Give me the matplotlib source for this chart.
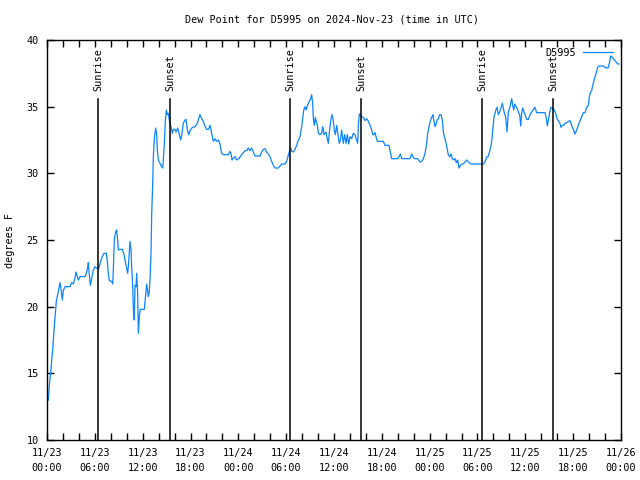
import numpy as np
import matplotlib
matplotlib.use("Agg")
import matplotlib.pyplot as plt
from matplotlib.ticker import MultipleLocator

# hours since 2024-11-23 00:00 UTC
hours = [
    0.17, 0.29, 0.46, 0.59, 0.71, 0.88, 1.05, 1.17, 1.34, 1.51, 1.63, 1.76, 1.92, 2.05, 2.26,
    2.89, 3.09, 3.30, 3.51, 3.64, 3.80, 3.93, 4.14, 4.77, 4.98, 5.10, 5.18, 5.31, 5.44, 5.60,
    5.81, 6.02, 6.23, 6.44, 6.56, 6.73, 6.94, 7.15, 7.44, 7.57, 7.69, 7.82, 8.11, 8.24, 8.32,
    8.45, 8.61, 8.74, 8.86, 8.95, 9.16, 9.45, 9.66, 9.78, 9.99, 10.12, 10.20, 10.29, 10.41, 10.54,
    10.62, 10.75, 10.83, 10.95, 11.04, 11.16, 11.25, 11.37, 11.46, 11.58, 11.71, 12.21, 12.29, 12.42, 12.50,
    12.63, 12.71, 12.84, 12.92, 13.05, 13.13, 13.25, 13.34, 13.46, 13.63, 13.76, 13.84, 13.97, 14.17, 14.38,
    14.51, 14.59, 14.72, 14.84, 14.97, 15.09, 15.22, 15.34, 15.60, 15.72, 15.85, 16.06, 16.18, 16.39, 16.60,
    16.77, 16.93, 17.10, 17.31, 17.44, 17.60, 17.77, 17.94, 18.15, 18.56, 18.86, 19.02, 19.19, 19.40, 19.61,
    19.82, 20.03, 20.24, 20.45, 20.66, 20.86, 21.07, 21.28, 21.49, 21.70, 21.91, 22.12, 22.75, 22.96, 23.08,
    23.21, 23.37, 23.58, 23.79, 24.13, 24.42, 24.84, 25.05, 25.25, 25.46, 25.67, 25.88, 26.09, 26.72, 26.93,
    27.14, 27.35, 27.55, 27.76, 27.97, 28.18, 28.39, 28.60, 29.02, 29.23, 29.44, 29.85, 30.06, 30.27, 30.40,
    30.57, 30.69, 30.90, 31.11, 31.32, 31.53, 31.74, 31.95, 32.07, 32.20, 32.36, 32.49, 32.61, 32.78, 32.91,
    33.07, 33.20, 33.32, 33.41, 33.53, 33.66, 33.78, 33.91, 34.04, 34.24, 34.45, 34.58, 34.75, 35.00, 35.16,
    35.29, 35.42, 35.58, 35.75, 35.88, 36.04, 36.17, 36.34, 36.50, 36.67, 36.84, 36.96, 37.17, 37.34, 37.51,
    37.67, 37.84, 38.01, 38.22, 38.43, 38.63, 38.97, 39.05, 39.18, 39.47, 39.68, 39.89, 40.10, 40.31, 40.52,
    40.73, 40.85, 41.02, 41.14, 41.27, 41.44, 42.19, 42.40, 42.90, 43.07, 43.23, 43.99, 44.20, 44.32, 44.49,
    45.53, 45.74, 45.95, 46.16, 46.50, 46.79, 47.00, 47.21, 47.42, 47.63, 47.75, 47.92, 48.08, 48.25, 48.42,
    48.54, 48.67, 48.80, 48.92, 49.09, 49.26, 49.42, 49.59, 49.72, 49.84, 50.01, 50.18, 50.34, 50.51, 50.68,
    50.85, 51.01, 51.18, 51.35, 51.51, 51.68, 51.85, 52.01, 52.22, 52.43, 52.64, 52.85, 53.19, 54.52, 54.73,
    54.94, 55.15, 55.36, 55.57, 55.70, 55.82, 55.95, 56.07, 56.20, 56.32, 56.45, 56.62, 56.78, 56.95, 57.12,
    57.24, 57.37, 57.53, 57.70, 57.87, 58.04, 58.16, 58.29, 58.41, 58.54, 58.66, 58.79, 58.96, 59.12, 59.29,
    59.42, 59.54, 59.67, 59.83, 59.96, 60.17, 60.38, 60.59, 60.80, 61.01, 61.21, 61.42, 62.47, 62.64, 62.76,
    62.89, 63.06, 63.22, 63.43, 63.64, 63.81, 63.97, 64.14, 64.31, 64.48, 64.64, 64.81, 64.98, 65.23, 65.40,
    65.61, 65.81, 66.02, 66.23, 66.44, 66.65, 66.86, 67.07, 67.28, 67.49, 67.70, 67.91, 68.03, 68.16, 68.32,
    68.45, 68.57, 68.74, 68.91, 69.07, 69.24, 69.79, 69.99, 70.20, 70.37, 70.54, 70.71, 70.92, 71.17, 71.46,
    71.58, 71.75,
]
dewpoint = [
    13.0, 14.1, 15.0, 16.0, 16.75, 18.25, 19.5, 20.4, 20.9, 21.4, 21.8, 21.3, 20.5, 21.2, 21.5,
    21.5, 21.8, 21.7, 22.15, 22.6, 22.25, 22.0, 22.25, 22.25, 22.6, 22.9, 23.3, 22.4, 21.6, 22.1,
    22.75, 23.0, 22.9, 22.8, 23.0, 23.4, 23.75, 24.0, 24.0, 23.4, 22.5, 21.95, 21.9, 21.7, 22.75,
    25.1, 25.6, 25.75, 25.0, 24.25, 24.3, 24.3, 23.9, 23.5, 22.9, 22.5, 23.0, 23.75, 24.9, 24.25,
    23.0, 21.5, 19.9, 19.0, 21.6, 21.5, 22.5, 21.0, 18.0, 19.3, 19.8, 19.8, 20.3, 21.2, 21.7,
    21.1, 20.75, 21.2, 22.1, 24.0, 26.9, 29.1, 31.25, 32.6, 33.4, 32.9, 31.75, 31.0, 30.75, 30.5,
    30.4, 31.0, 32.25, 33.9, 34.75, 34.4, 34.5, 34.0, 33.4, 33.0, 33.3, 33.3, 33.1, 33.4, 32.9,
    32.5, 33.0, 33.75, 34.0, 34.05, 33.3, 32.9, 33.2, 33.4, 33.5, 33.75, 34.1, 34.4, 34.1, 33.9,
    33.55, 33.3, 33.3, 33.6, 33.0, 32.4, 32.6, 32.4, 32.5, 32.2, 31.5, 31.4, 31.4, 31.65, 31.5,
    31.0, 31.15, 31.25, 31.0, 31.15, 31.4, 31.7, 31.7, 31.9, 31.7, 31.9, 31.6, 31.3, 31.3, 31.6,
    31.8, 31.85, 31.6, 31.45, 31.25, 30.9, 30.6, 30.4, 30.4, 30.55, 30.7, 30.7, 30.9, 31.35, 31.65,
    31.9, 31.65, 31.6, 31.8, 32.1, 32.5, 32.75, 33.5, 34.1, 34.75, 35.0, 34.75, 35.0, 35.25, 35.4,
    35.6, 35.9, 35.25, 34.1, 33.6, 34.2, 33.85, 33.6, 33.0, 32.9, 33.0, 33.5, 32.9, 33.1, 32.6,
    32.25, 33.1, 33.9, 34.4, 34.1, 33.25, 32.9, 33.6, 32.9, 32.25, 32.6, 33.25, 32.25, 32.9, 32.25,
    32.9, 32.2, 32.75, 32.6, 33.0, 32.9, 32.25, 33.6, 34.45, 34.25, 34.2, 33.95, 34.1, 33.9, 33.6,
    33.25, 32.9, 32.9, 33.05, 32.75, 32.4, 32.4, 32.1, 32.1, 31.6, 31.1, 31.1, 31.3, 31.45, 31.1,
    31.1, 31.45, 31.2, 31.1, 31.1, 30.85, 30.9, 31.1, 31.5, 32.25, 33.0, 33.5, 33.9, 34.2, 34.4,
    33.9, 33.5, 33.7, 34.0, 34.1, 34.4, 34.4, 34.0, 33.1, 32.75, 32.4, 31.9, 31.4, 31.25, 31.45,
    31.1, 31.0, 31.1, 30.8, 31.0, 30.4, 30.55, 30.7, 30.7, 30.85, 31.0, 30.85, 30.7, 30.7, 30.7,
    30.85, 31.2, 31.3, 31.75, 32.1, 32.6, 33.5, 34.25, 34.5, 34.8, 34.95, 34.4, 34.6, 34.9, 35.25,
    34.9, 34.5, 34.25, 33.1, 34.6, 34.9, 35.25, 35.6, 35.1, 34.75, 35.2, 35.05, 34.9, 34.6, 34.4,
    33.55, 34.5, 34.9, 34.6, 34.4, 34.05, 34.05, 34.4, 34.6, 34.8, 34.95, 34.55, 34.55, 34.1, 33.55,
    34.0, 34.6, 34.95, 34.9, 34.75, 34.5, 34.1, 33.95, 33.8, 33.45, 33.6, 33.6, 33.75, 33.8, 33.9,
    33.95, 33.6, 33.3, 32.95, 33.25, 33.6, 33.95, 34.25, 34.55, 34.55, 34.95, 35.1, 35.75, 36.05, 36.2,
    36.6, 36.85, 37.25, 37.55, 37.95, 38.05, 38.05, 37.95, 37.9, 37.9, 38.25, 38.8, 38.7, 38.5, 38.3,
    38.2, 38.2,
]

sun_events = ["Sunrise", "Sunset", "Sunrise", "Sunset", "Sunrise", "Sunset"]
sun_hours = [6.44, 15.47, 30.52, 39.39, 54.61, 63.51]

tick_hours = [0, 6, 12, 18, 24, 30, 36, 42, 48, 54, 60, 66, 72]
tick_labels = [
    "11/23\n00:00", "11/23\n06:00", "11/23\n12:00", "11/23\n18:00",
    "11/24\n00:00", "11/24\n06:00", "11/24\n12:00", "11/24\n18:00",
    "11/25\n00:00", "11/25\n06:00", "11/25\n12:00", "11/25\n18:00",
    "11/26\n00:00",
]

mono = "DejaVu Sans Mono"
fs = 7.3
plt.rcParams["font.family"] = mono
plt.rcParams["font.size"] = fs

fig = plt.figure(figsize=(6.4, 4.8), dpi=100)
ax = fig.add_axes([47 / 640, 40 / 480, 574 / 640, 400 / 480])

ax.plot(hours, dewpoint, color="#0a84ff", lw=0.9, label="D5995")

# sunrise / sunset markers
for name, h in zip(sun_events, sun_hours):
    ax.plot([h, h], [10, 35.55], color="black", lw=1.1)
    ax.text(h, 36.15, name, rotation=90, ha="center", va="bottom", fontsize=fs)

ax.set_xlim(0, 72)
ax.set_ylim(10, 40)
ax.set_xticks(tick_hours)
ax.set_xticklabels(tick_labels, linespacing=1.55)
ax.xaxis.set_minor_locator(MultipleLocator(2))
ax.set_yticks(np.arange(10, 41, 5))

ax.tick_params(axis="both", which="both", direction="in", top=True, right=True,
               width=1, length=5, color="black", labelsize=fs)
ax.tick_params(axis="x", which="major", pad=6)
ax.tick_params(axis="y", which="major", pad=6)
for s in ax.spines.values():
    s.set_linewidth(1)

ax.set_ylabel("degrees F", fontsize=fs, labelpad=8)
fig.text(332 / 640, 1 - 19 / 480, "Dew Point for D5995 on 2024-Nov-23 (time in UTC)",
         ha="center", va="center", fontsize=fs)

ax.legend(loc="upper right", frameon=False, markerfirst=False, handlelength=3.0,
          handletextpad=0.7, borderaxespad=0.35, prop={"family": mono, "size": fs})

fig.savefig("out.png", dpi=100)
